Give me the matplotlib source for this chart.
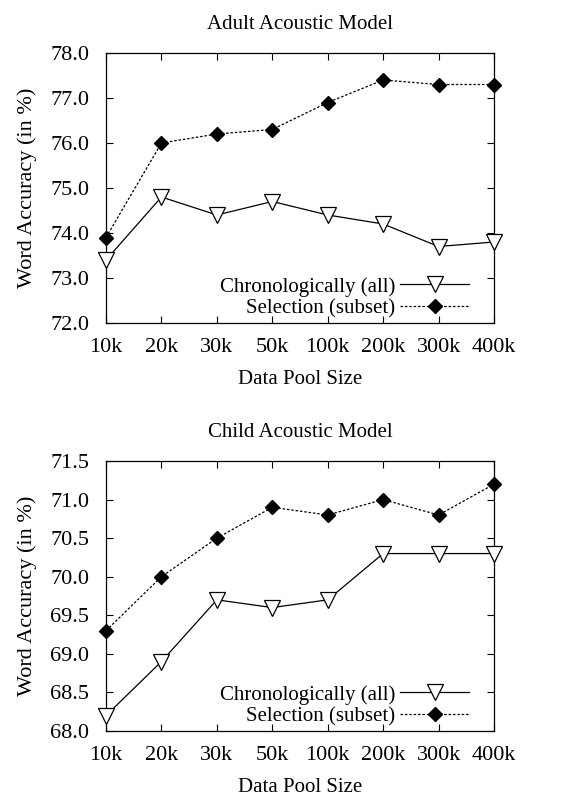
import matplotlib
matplotlib.use("Agg")
import matplotlib.pyplot as plt

categories = ["10k", "20k", "30k", "50k", "100k", "200k", "300k", "400k"]
adult_chrono = [73.4, 74.8, 74.4, 74.7, 74.4, 74.2, 73.7, 73.8]
adult_select = [73.9, 76.0, 76.2, 76.3, 76.9, 77.4, 77.3, 77.3]
child_chrono = [68.2, 68.9, 69.7, 69.6, 69.7, 70.3, 70.3, 70.3]
child_select = [69.3, 70.0, 70.5, 70.9, 70.8, 71.0, 70.8, 71.2]
adult_yticks = [72.0, 73.0, 74.0, 75.0, 76.0, 77.0, 78.0]
child_yticks = [68.0, 68.5, 69.0, 69.5, 70.0, 70.5, 71.0, 71.5]

plt.rcParams['font.family'] = ['Liberation Serif', 'DejaVu Serif']

fig = plt.figure(figsize=(5.73, 7.96), dpi=100)
W, H = 573, 796

def make(ax_box, title, chrono, select, yticks):
    l, t, r, b = ax_box
    ax = fig.add_axes([l / W, 1 - b / H, (r - l) / W, (b - t) / H])
    x = list(range(len(categories)))
    ax.plot(x, chrono, color='black', lw=0.9, marker='v', ms=11, mfc='white',
            mec='black', mew=0.9, label='Chronologically (all)', clip_on=False, zorder=3)
    ax.plot(x, select, color='black', lw=0.9, ls=(0, (2, 1.5)), marker='D', ms=7.5,
            mfc='black', mec='black', label='Selection (subset)', clip_on=False, zorder=3)
    ax.set_xlim(0, len(categories) - 1)
    ax.set_ylim(yticks[0], yticks[-1])
    ax.set_xticks(x)
    ax.set_xticklabels(categories)
    ax.set_yticks(yticks)
    ax.set_yticklabels([f"{v:.1f}" for v in yticks])
    ax.tick_params(direction='in', top=True, right=True, labelsize=16, length=5, width=0.8)
    ax.tick_params(axis='y', pad=12)
    ax.tick_params(axis='x', pad=11)
    for s in ax.spines.values():
        s.set_linewidth(0.9)
    ax.set_title(title, fontsize=15, pad=17)
    ax.set_xlabel('Data Pool Size', fontsize=15, labelpad=9)
    ax.set_ylabel('Word Accuracy (in %)', fontsize=16)
    ax.yaxis.set_label_coords(-(l - 37) / (r - l), 0.5)
    leg = ax.legend(loc='lower right', frameon=False, fontsize=15, markerfirst=False,
                    handlelength=3.3, handletextpad=0.25, labelspacing=0.12,
                    borderaxespad=0.0, bbox_to_anchor=(0.957, -0.015))
    for txt in leg.get_texts():
        txt.set_ha('right')
    leg._legend_box.align = 'right'
    return ax

make((106, 53, 494, 323), 'Adult Acoustic Model', adult_chrono, adult_select, adult_yticks)
make((106, 461, 494, 731), 'Child Acoustic Model', child_chrono, child_select, child_yticks)

fig.savefig('out.png', dpi=100)
